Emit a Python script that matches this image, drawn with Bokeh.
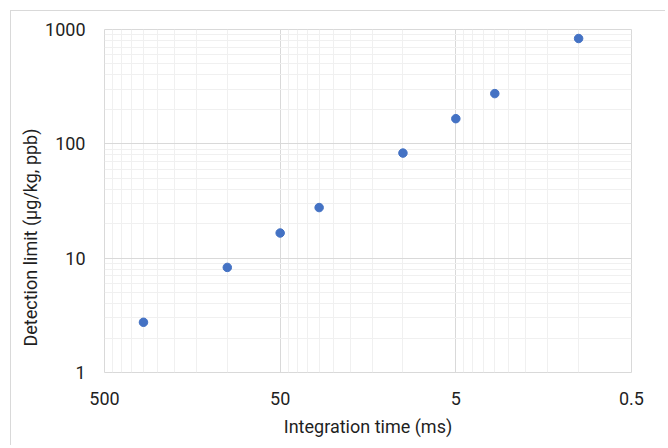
from bokeh.plotting import figure
from bokeh.models import Range1d, FixedTicker, CustomJSTickFormatter, Title, ColumnDataSource
from bokeh.embed import file_html
from bokeh.resources import INLINE

# data
integration_time_ms = [300, 100, 50, 30, 10, 5, 3, 1]
detection_limit_ppb = [2.75, 8.3, 16.6, 27.7, 83, 166, 275, 834]

x_major_ticks = [0.5, 5, 50, 500]
x_minor_ticks = [1, 1.5, 2, 2.5, 3, 3.5, 4, 4.5,
                 10, 15, 20, 25, 30, 35, 40, 45,
                 100, 150, 200, 250, 300, 350, 400, 450]
y_major_ticks = [1, 10, 100, 1000]
y_minor_ticks = [2, 3, 4, 5, 6, 7, 8, 9,
                 20, 30, 40, 50, 60, 70, 80, 90,
                 200, 300, 400, 500, 600, 700, 800, 900]

x_title = "Integration time (ms)"
y_title = "Detection limit (µg/kg, ppb)"

FONT = "Roboto"
TXT = "#1f1f1f"

p = figure(width=655, height=435, x_axis_type="log", y_axis_type="log",
           x_range=Range1d(500, 0.5), y_range=Range1d(1, 1000),
           output_backend="svg", toolbar_location=None,
           min_border_left=93, min_border_right=35, min_border_top=18, min_border_bottom=74)
p.margin = (10, 0, 0, 10)
p.styles = {"border-top": "1px solid #d9d9d9", "border-left": "1px solid #d9d9d9"}

src = ColumnDataSource(dict(x=integration_time_ms, y=detection_limit_ppb))
p.scatter("x", "y", source=src, size=8.5, color="#4472C4", line_color="#4472C4")

p.xaxis.ticker = FixedTicker(ticks=x_major_ticks, minor_ticks=x_minor_ticks)
p.yaxis.ticker = FixedTicker(ticks=y_major_ticks, minor_ticks=y_minor_ticks)
p.xaxis.formatter = CustomJSTickFormatter(code="return String(tick);")
p.yaxis.formatter = CustomJSTickFormatter(code="return String(tick);")

for ax in (p.xaxis, p.yaxis):
    ax.axis_line_color = None
    ax.major_tick_line_color = None
    ax.minor_tick_line_color = None
    ax.major_tick_out = 0
    ax.minor_tick_out = 0
    ax.major_tick_in = 0
    ax.minor_tick_in = 0
    ax.major_label_text_font = FONT
    ax.major_label_text_font_size = "18px"
    ax.major_label_text_color = TXT
    ax.axis_label_text_font = FONT
    ax.axis_label_text_font_size = "18px"
    ax.axis_label_text_font_style = "normal"
    ax.axis_label_text_color = TXT
    ax.major_label_standoff = 19

p.xaxis.axis_label = x_title
p.xaxis.axis_label_standoff = 8

for g in (p.xgrid, p.ygrid):
    g.grid_line_color = "#d9d9d9"
    g.minor_grid_line_color = "#f0f0f0"

p.outline_line_color = "#d9d9d9"

ytitle = Title(text=y_title, align="left", offset=26, standoff=4,
               text_font=FONT, text_font_size="18px", text_font_style="normal",
               text_color=TXT)
p.add_layout(ytitle, "left")

open("out.html", "w").write(file_html(p, INLINE))
